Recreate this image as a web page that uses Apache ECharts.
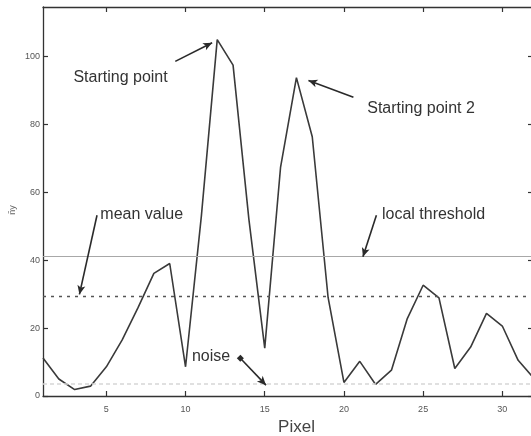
<!DOCTYPE html>
<html><head><meta charset="utf-8">
<script src="https://cdn.jsdelivr.net/npm/echarts@6/dist/echarts.min.js"></script>
<style>html,body{margin:0;padding:0;background:#fff}#c{width:531px;height:436px}</style>
</head><body><div id="c"></div>
<script>
const pixels = [1,2,3,4,5,6,7,8,9,10,11,12,13,14,15,16,17,18,19,20,21,22,23,24,25,26,27,28,29,30,31,32];
const values = [11.2,5,1.9,2.9,8.6,16.5,26,36.1,39,8.6,53,104.9,97.4,52,14.1,67.4,93.7,76.3,29,4,10.2,3.4,7.6,22.8,32.6,28.9,8.1,14.4,24.3,20.6,10.5,5.2];
const xTicks = [5,10,15,20,25,30];
const yTicks = [0,20,40,60,80,100];
const localThreshold = 41.0;
const meanValue = 29.5;
const noiseLevel = 3.7;
const annotationTexts = ['Starting point','Starting point 2','mean value','local threshold','noise'];
const annotationTextPos = [[2.92,93.8],[21.47,84.7],[4.62,53.5],[22.4,53.5],[10.4,11.5]];
const arrowFrom = [[9.35,98.5],[20.6,87.9],[4.41,53.2],[22.05,53.2],[13.46,11.1]];
const arrowTo = [[11.68,104.0],[17.76,92.9],[3.30,29.9],[21.2,41.0],[15.08,3.2]];
const xName = 'Pixel';
const yName = 'n\u0304y';

const chart = echarts.init(document.getElementById('c'), null, {renderer:'canvas'});
const axisLineStyle = {color:'#333', width:1.3};
const FONT = '"Liberation Sans", Arial, sans-serif';
const option = {
  animation:false,
  backgroundColor:'#fff',
  grid:{left:43, top:7, width:491, height:389, containLabel:false, outerBoundsMode:'none'},
  xAxis:[
    {type:'value', min:1, max:32, position:'bottom',
     axisLine:{show:true, onZero:false, lineStyle:axisLineStyle},
     axisTick:{show:true, inside:true, length:5, customValues:xTicks, lineStyle:{color:'#333', width:1.2}},
     axisLabel:{show:true, customValues:xTicks, fontSize:9, color:'#555', margin:9, fontFamily:FONT},
     splitLine:{show:false},
     name:xName, nameLocation:'middle', nameGap:22,
     nameTextStyle:{fontSize:17, color:'#444', fontFamily:FONT, padding:[0,0,0,16]}},
    {type:'value', min:1, max:32, position:'top',
     axisLine:{show:true, onZero:false, lineStyle:axisLineStyle},
     axisTick:{show:true, inside:true, length:5, customValues:xTicks, lineStyle:{color:'#333', width:1.2}},
     axisLabel:{show:false, customValues:xTicks},
     splitLine:{show:false}}
  ],
  yAxis:[
    {type:'value', min:0, max:114.5, position:'left',
     axisLine:{show:true, onZero:false, lineStyle:axisLineStyle},
     axisTick:{show:true, inside:true, length:5, customValues:yTicks, lineStyle:{color:'#333', width:1.2}},
     axisLabel:{show:true, customValues:yTicks, fontSize:9, color:'#555', margin:3, fontFamily:FONT},
     splitLine:{show:false}},
    {type:'value', min:0, max:114.5, position:'right',
     axisLine:{show:true, onZero:false, lineStyle:axisLineStyle},
     axisTick:{show:true, inside:true, length:6, customValues:yTicks, lineStyle:{color:'#333', width:1.2}},
     axisLabel:{show:false, customValues:yTicks},
     splitLine:{show:false}}
  ],
  series:[
    {type:'line', xAxisIndex:0, yAxisIndex:0, symbol:'none',
     data:pixels.map((p,i)=>[p, values[i]]),
     lineStyle:{color:'#3a3a3a', width:1.6},
     markLine:{silent:true, symbol:'none', label:{show:false}, animation:false,
       data:[
         {yAxis:localThreshold, lineStyle:{color:'#a8a8a8', width:1.2, type:'solid'}},
         {yAxis:meanValue, lineStyle:{color:'#555', width:1.4, type:[3,5]}},
         {yAxis:noiseLevel, lineStyle:{color:'#d6d6d6', width:1.5, type:[4,3]}}
       ]}},
    {type:'line', xAxisIndex:0, yAxisIndex:0, symbol:'none', data:[],
     markLine:{silent:true, animation:false, label:{show:false}, symbol:['none','arrow'], symbolSize:[6,9],
       lineStyle:{color:'#2a2a2a', width:1.6, type:'solid'},
       data:arrowFrom.map((f,i)=>[{coord:f, symbol:(i===4?'rect':'none'), symbolSize:5},{coord:arrowTo[i], symbol:'arrow', symbolSize:[6,9]}])}}
  ]
};
chart.setOption(option);
const g = annotationTexts.map((t,i)=>{
  const p = chart.convertToPixel({xAxisIndex:0, yAxisIndex:0}, annotationTextPos[i]);
  return {type:'text', x:p[0], y:p[1], silent:true,
    style:{text:t, fontSize:16, fontFamily:FONT, fill:'#333', align:'left', verticalAlign:'middle'}};
});
g.push({type:'text', x:13, y:210, rotation:Math.PI/2, silent:true,
  style:{text:yName, fontSize:9, fontFamily:FONT, fill:'#666', align:'center', verticalAlign:'middle'}});
chart.setOption({graphic:g});
</script>
</body></html>
